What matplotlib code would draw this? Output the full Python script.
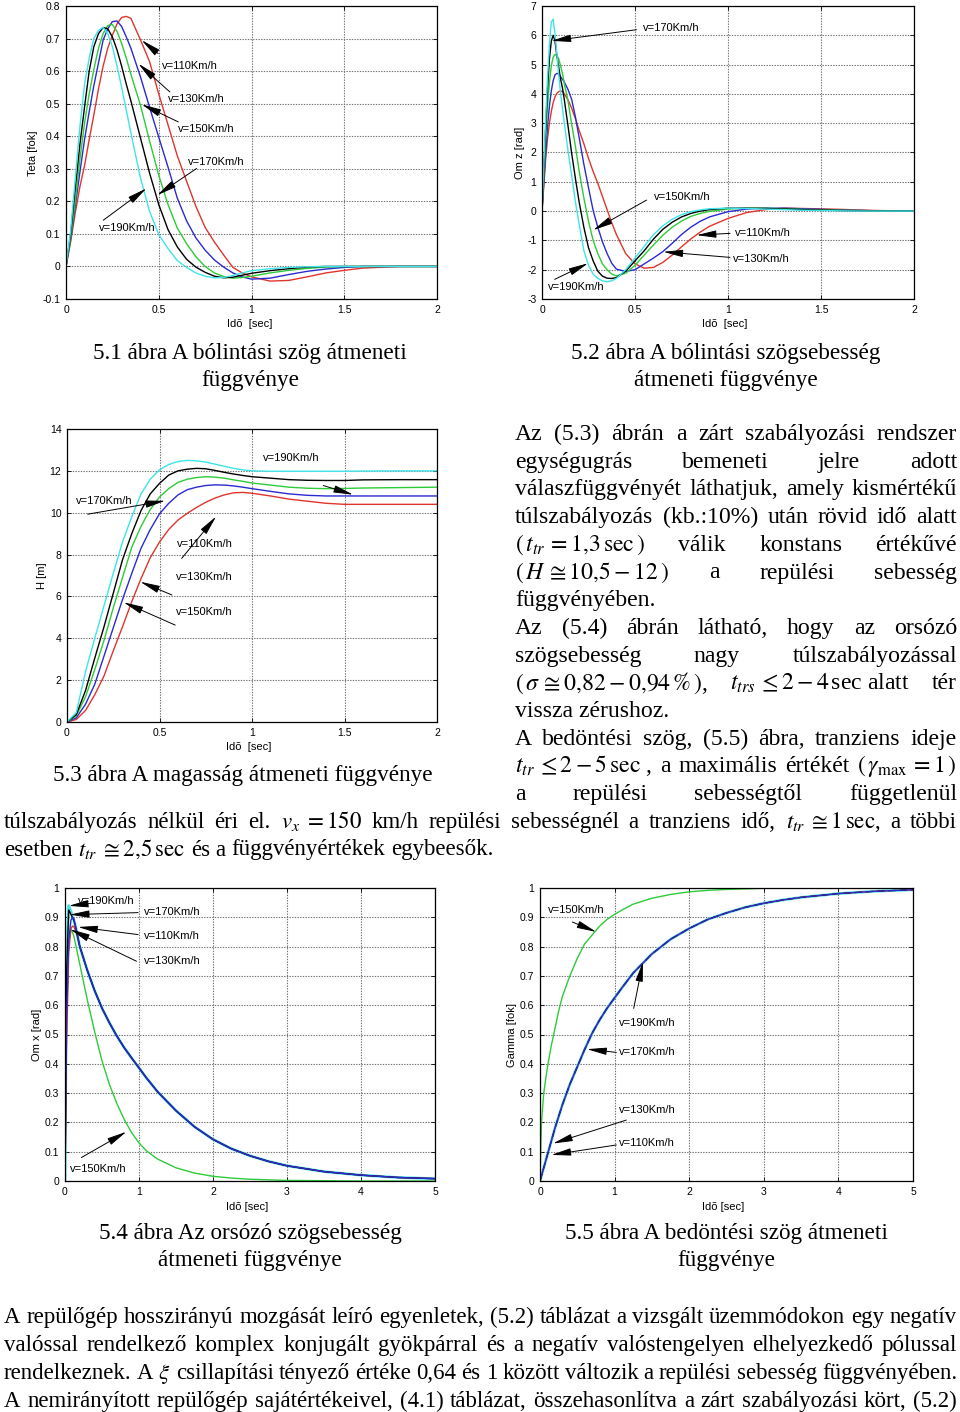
import matplotlib
matplotlib.use("Agg")
import matplotlib.pyplot as plt

plt.rcParams["mathtext.fontset"] = "stix"
plt.rcParams["font.family"] = "Liberation Sans"

SANS = "Liberation Sans"
SERIF = "Liberation Serif"
RED, BLUE, GREEN, BLACK, CYAN = "#e0352c", "#2a2ad2", "#2ecb38", "#000000", "#3fe4ea"

# ---- 5.1 Teta [fok] ----
teta_t = [0, 0.025, 0.05, 0.075, 0.1, 0.125, 0.15, 0.175, 0.2, 0.225, 0.25, 0.275, 0.3, 0.325,
          0.35, 0.4, 0.45, 0.5, 0.55, 0.6, 0.65, 0.7, 0.75, 0.8, 0.85, 0.9, 0.95, 1.0, 1.1, 1.2,
          1.3, 1.4, 1.5, 1.6, 1.8, 2.0]
teta_110 = [0, 0.075, 0.165, 0.245, 0.31, 0.39, 0.465, 0.545, 0.615, 0.67, 0.71, 0.745, 0.765, 0.768,
            0.762, 0.698, 0.63, 0.53, 0.435, 0.34, 0.262, 0.185, 0.12, 0.075, 0.035, -0.003, -0.02,
            -0.032, -0.045, -0.043, -0.032, -0.02, -0.012, -0.005, 0, 0]
teta_130 = [0, 0.085, 0.185, 0.29, 0.39, 0.475, 0.555, 0.625, 0.695, 0.73, 0.752, 0.754, 0.737, 0.705,
            0.67, 0.585, 0.49, 0.397, 0.305, 0.21, 0.14, 0.088, 0.05, 0.02, -0.002, -0.02, -0.032,
            -0.039, -0.036, -0.025, -0.015, -0.008, -0.003, 0, 0, 0]
teta_150 = [0, 0.09, 0.20, 0.33, 0.44, 0.53, 0.605, 0.67, 0.715, 0.74, 0.743, 0.722, 0.685, 0.64,
            0.59, 0.498, 0.387, 0.28, 0.19, 0.118, 0.07, 0.03, 0.0, -0.02, -0.031, -0.036, -0.034,
            -0.03, -0.02, -0.012, -0.006, -0.002, 0, 0, 0, 0]
teta_170 = [0, 0.10, 0.24, 0.375, 0.49, 0.60, 0.675, 0.715, 0.734, 0.73, 0.705, 0.665, 0.615, 0.56,
            0.508, 0.398, 0.288, 0.19, 0.113, 0.06, 0.022, -0.002, -0.018, -0.03, -0.035, -0.033,
            -0.027, -0.021, -0.013, -0.007, -0.002, 0, 0, 0, 0, 0]
teta_190 = [0, 0.11, 0.27, 0.43, 0.56, 0.64, 0.70, 0.725, 0.734, 0.715, 0.675, 0.615, 0.55, 0.48,
            0.41, 0.275, 0.17, 0.098, 0.055, 0.018, -0.003, -0.02, -0.03, -0.035, -0.034, -0.028,
            -0.02, -0.013, -0.007, -0.003, -0.001, 0, 0, 0, 0, 0]

# ---- 5.2 Om z [rad] ----
omz_t = [0, 0.01, 0.02, 0.03, 0.04, 0.05, 0.06, 0.07, 0.08, 0.09, 0.10, 0.11, 0.12, 0.14, 0.16,
         0.18, 0.20, 0.225, 0.25, 0.275, 0.30, 0.325, 0.35, 0.375, 0.40, 0.45, 0.50, 0.55, 0.60,
         0.65, 0.70, 0.75, 0.80, 0.85, 0.90, 1.0, 1.1, 1.2, 1.3, 1.4, 1.6, 1.8, 2.0]
omz_110 = [0, 0.9, 1.8, 2.5, 3.0, 3.4, 3.7, 3.9, 4.02, 4.08, 4.1, 4.08, 4.0, 3.8, 3.5, 3.15, 2.75,
           2.3, 1.8, 1.35, 0.95, 0.5, 0.05, -0.4, -0.8, -1.45, -1.8, -1.95, -1.92, -1.75, -1.5,
           -1.22, -0.95, -0.72, -0.52, -0.25, -0.05, 0.05, 0.1, 0.09, 0.06, 0.02, 0]
omz_130 = [0, 1.0, 2.0, 2.9, 3.6, 4.1, 4.45, 4.65, 4.7, 4.68, 4.58, 4.5, 4.4, 4.15, 3.8, 3.2, 2.5,
           1.6, 0.8, 0.02, -0.55, -1.05, -1.45, -1.78, -1.98, -2.06, -2.0, -1.8, -1.6, -1.38, -1.1,
           -0.8, -0.55, -0.35, -0.2, -0.02, 0.07, 0.1, 0.1, 0.08, 0.04, 0.01, 0]
omz_150 = [0, 1.2, 2.5, 3.6, 4.4, 4.95, 5.25, 5.35, 5.3, 5.2, 4.95, 4.7, 4.35, 3.75, 2.95, 2.2,
           1.35, 0.45, -0.35, -1.0, -1.45, -1.8, -2.0, -2.15, -2.21, -2.12, -1.85, -1.5, -1.15,
           -0.82, -0.55, -0.34, -0.18, -0.08, -0.01, 0.07, 0.1, 0.1, 0.08, 0.06, 0.03, 0.01, 0]
omz_170 = [0, 1.4, 2.9, 4.2, 5.2, 5.8, 6.0, 5.8, 5.3, 4.9, 4.5, 4.2, 3.8, 2.9, 1.95, 1.1, 0.3,
           -0.55, -1.25, -1.7, -2.05, -2.22, -2.29, -2.3, -2.27, -2.05, -1.7, -1.35, -0.95, -0.62,
           -0.38, -0.2, -0.08, 0.0, 0.05, 0.1, 0.1, 0.09, 0.07, 0.05, 0.02, 0.005, 0]
omz_190 = [0, 1.6, 3.2, 4.6, 5.7, 6.45, 6.55, 6.05, 5.35, 4.65, 4.0, 3.5, 3.0, 2.05, 1.2, 0.3,
           -0.45, -1.35, -1.85, -2.15, -2.3, -2.38, -2.41, -2.38, -2.3, -2.0, -1.6, -1.2, -0.8,
           -0.5, -0.28, -0.12, -0.02, 0.04, 0.08, 0.1, 0.09, 0.07, 0.05, 0.03, 0.01, 0, 0]

# ---- 5.3 H [m] ----
h_t = [0, 0.05, 0.1, 0.15, 0.2, 0.25, 0.3, 0.35, 0.4, 0.45, 0.5, 0.55, 0.6, 0.65, 0.7, 0.75, 0.8,
       0.85, 0.9, 0.95, 1.0, 1.1, 1.2, 1.3, 1.4, 1.5, 1.6, 1.8, 2.0]
h_110 = [0, 0.12, 0.55, 1.3, 2.2, 3.4, 4.55, 5.75, 6.85, 7.85, 8.6, 9.2, 9.65, 9.97, 10.25, 10.5,
         10.7, 10.85, 10.95, 10.97, 10.93, 10.8, 10.65, 10.55, 10.45, 10.4, 10.4, 10.4, 10.4]
h_130 = [0, 0.2, 0.85, 1.8, 3.15, 4.5, 5.85, 7.1, 8.3, 9.2, 9.95, 10.45, 10.85, 11.1, 11.22, 11.3,
         11.33, 11.32, 11.28, 11.22, 11.15, 11.02, 10.9, 10.83, 10.8, 10.8, 10.8, 10.8, 10.8]
h_150 = [0, 0.3, 1.2, 2.5, 3.9, 5.45, 6.9, 8.35, 9.35, 10.15, 10.75, 11.15, 11.45, 11.6, 11.68,
         11.72, 11.7, 11.65, 11.57, 11.5, 11.42, 11.32, 11.22, 11.17, 11.15, 11.16, 11.18, 11.2, 11.22]
h_170 = [0, 0.35, 1.5, 3.05, 4.55, 6.15, 7.75, 9.0, 10.1, 10.9, 11.4, 11.8, 12.0, 12.08, 12.12,
         12.1, 12.02, 11.93, 11.85, 11.78, 11.72, 11.65, 11.58, 11.55, 11.54, 11.54, 11.57, 11.58, 11.58]
h_190 = [0, 0.45, 2.4, 4.0, 5.55, 7.1, 8.6, 9.8, 10.9, 11.6, 12.05, 12.3, 12.45, 12.5, 12.48, 12.42,
         12.32, 12.22, 12.12, 12.05, 12.0, 11.98, 11.98, 11.98, 11.98, 11.98, 11.99, 12.0, 12.0]

# ---- 5.4 Om x [rad] ----
omx_t = [0, 0.02, 0.05, 0.08, 0.1, 0.12, 0.15, 0.2, 0.25, 0.3, 0.4, 0.5, 0.6, 0.7, 0.8, 0.9, 1.0,
         1.1, 1.25, 1.5, 1.75, 2.0, 2.25, 2.5, 2.75, 3.0, 3.5, 4.0, 4.5, 5.0]
omx_slow = [0.8, 0.76, 0.72, 0.65, 0.59, 0.54, 0.495, 0.455, 0.42, 0.386, 0.352, 0.305, 0.24,
            0.185, 0.142, 0.11, 0.086, 0.067, 0.052, 0.032, 0.02, 0.012, 0.008]   # from t=0.2 on
omx_110 = [0, 0.45, 0.78, 0.86, 0.87, 0.868, 0.85] + omx_slow
omx_130 = [0, 0.55, 0.82, 0.89, 0.9, 0.895, 0.86] + omx_slow
omx_170 = [0, 0.7, 0.925, 0.91, 0.9, 0.89, 0.86] + omx_slow
omx_190 = [0, 0.75, 0.94, 0.92, 0.9, 0.89, 0.86] + omx_slow
omx_150 = [0, 0.5, 0.82, 0.86, 0.85, 0.835, 0.8, 0.74, 0.68, 0.62, 0.51, 0.41, 0.33, 0.265, 0.21,
           0.165, 0.13, 0.103, 0.075, 0.045, 0.027, 0.016, 0.01, 0.006, 0.004, 0.002, 0.001, 0, 0, 0]

# ---- 5.5 Gamma [fok] ----
gam_t = [0, 0.02, 0.05, 0.1, 0.15, 0.2, 0.25, 0.3, 0.4, 0.5, 0.6, 0.7, 0.8, 0.9, 1.0, 1.1, 1.25,
         1.5, 1.75, 2.0, 2.25, 2.5, 2.75, 3.0, 3.25, 3.5, 4.0, 4.5, 5.0]
gam_slow = [0, 0.018, 0.045, 0.09, 0.135, 0.18, 0.22, 0.26, 0.33, 0.39, 0.45, 0.505, 0.55, 0.59,
            0.625, 0.66, 0.71, 0.775, 0.825, 0.862, 0.893, 0.915, 0.934, 0.948, 0.959, 0.968,
            0.981, 0.989, 0.994]
gam_150 = [0, 0.2, 0.3, 0.39, 0.46, 0.52, 0.58, 0.63, 0.7, 0.76, 0.81, 0.84, 0.87, 0.893, 0.91,
           0.925, 0.945, 0.965, 0.978, 0.987, 0.992, 0.995, 0.997, 0.999, 1.0, 1.0, 1.0, 1.0, 1.0]

# ---- page text ----
col_lines = [
    ["Az", "(5.3)", "ábrán", "a", "zárt", "szabályozási", "rendszer"],
    ["egységugrás", "bemeneti", "jelre", "adott"],
    ["válaszfüggvényét", "láthatjuk,", "amely", "kismértékű"],
    ["túlszabályozás", "(kb.:10%)", "után", "rövid", "idő", "alatt"],
    [r"$(\,t_{tr}\,=1{,}3\,\mathrm{sec}\,)$", "válik", "konstans", "értékűvé"],
    [r"$(\,H\,\cong 10{,}5-12\,)$", "a", "repülési", "sebesség"],
    ["függvényében."],
    ["Az", "(5.4)", "ábrán", "látható,", "hogy", "az", "orsózó"],
    ["szögsebesség", "nagy", "túlszabályozással"],
    [r"$(\,\sigma\,\cong 0{,}82-0{,}94\,\%\,)$,", r"$t_{trs}\,\leq 2-4\,$sec alatt", "tér"],
    ["vissza zérushoz."],
    ["A", "bedöntési", "szög,", "(5.5)", "ábra,", "tranziens", "ideje"],
    [r"$t_{tr}\,\leq 2-5\,\mathrm{sec}$ ,", "a", "maximális", "értékét",
     r"$(\,\gamma_{\mathrm{max}}\,=1\,)$"],
    ["a", "repülési", "sebességtől", "függetlenül"],
]
col_justify = [True, True, True, True, True, True, False, True, True, True, False, True, True, True]

wide_lines = [
    ["túlszabályozás", "nélkül", "éri", "el.", r"$v_x\;=150$", "km/h", "repülési", "sebességnél",
     "a", "tranziens", "idő,", r"$t_{tr}\;\cong 1\,\mathrm{sec}$,", "a", "többi"],
    ["esetben", r"$t_{tr}\;\cong 2{,}5\,\mathrm{sec}$", "és", "a", "függvényértékek", "egybeesők."],
]
bottom_lines = [
    "A repülőgép hosszirányú mozgását leíró egyenletek, (5.2) táblázat a vizsgált üzemmódokon egy negatív".split(),
    "valóssal rendelkező komplex konjugált gyökpárral és a negatív valóstengelyen elhelyezkedő pólussal".split(),
    ["rendelkeznek.", "A", r"$\xi$", "csillapítási", "tényező", "értéke", "0,64", "és", "1", "között",
     "változik", "a", "repülési", "sebesség", "függvényében."],
    "A nemirányított repülőgép sajátértékeivel, (4.1) táblázat, összehasonlítva a zárt szabályozási kört, (5.2)".split(),
]

W, H = 960, 1412
fig = plt.figure(figsize=(W / 100, H / 100), dpi=100)
page = fig.add_axes([0, 0, 1, 1], zorder=0)
page.set_xlim(0, W)
page.set_ylim(H, 0)
page.axis("off")
renderer = fig.canvas.get_renderer()


def width_of(s, size):
    t = page.text(0, 0, s, fontsize=size, family=SERIF)
    w = t.get_window_extent(renderer).width
    t.remove()
    return w


def fit_size(s, target, base=18):
    return base * target / width_of(s, base)


def text_line(y, x0, x1, pieces, size, justify=True):
    objs = [page.text(0, y, p, fontsize=size, family=SERIF, va="baseline", ha="left") for p in pieces]
    widths = [o.get_window_extent(renderer).width for o in objs]
    if justify and len(objs) > 1:
        gap = (x1 - x0 - sum(widths)) / (len(objs) - 1)
    else:
        gap = size * 100 / 72 * 0.25
    x = x0
    for o, w in zip(objs, widths):
        o.set_x(x)
        x += w + gap


def box(x0, y0, x1, y1):
    return fig.add_axes([x0 / W, 1 - y1 / H, (x1 - x0) / W, (y1 - y0) / H], zorder=1)


def frame(ax, xlim, xticks, ylim, yticks, ylabels):
    ax.set_xlim(xlim)
    ax.set_ylim(ylim)
    ax.set_xticks(xticks)
    ax.set_xticklabels([("%g" % v) for v in xticks], fontsize=7.5, family=SANS)
    ax.set_yticks(yticks)
    ax.set_yticklabels(ylabels, fontsize=7.5, family=SANS)
    ax.grid(True, color="#707070", linestyle=(0, (1.2, 1.2)), linewidth=0.8)
    ax.tick_params(direction="in", length=3, width=0.6, top=True, right=True, pad=4)
    for s in ax.spines.values():
        s.set_linewidth(0.9)


ARROW = dict(arrowstyle="-|>,head_length=1.5,head_width=0.28", mutation_scale=8,
             color="k", lw=0.7, shrinkA=0, shrinkB=0)


def note(ax, text, xy, tail=None, tip=None):
    ax.text(xy[0], xy[1], text, fontsize=8, family=SANS, ha="left", va="center", zorder=5)
    if tip is not None:
        ax.annotate("", xy=tip, xytext=tail, zorder=5, arrowprops=ARROW)


def axis_texts(xl, xpos, yl, ypos):
    page.text(xpos[0], xpos[1], xl, fontsize=8, family=SANS, ha="center", va="center")
    page.text(ypos[0], ypos[1], yl, fontsize=8, family=SANS, ha="center", va="center", rotation=90)


# ---------- 5.1 ----------
ax1 = box(66, 6, 437, 299)
for ys, c in [(teta_110, RED), (teta_130, BLUE), (teta_150, GREEN), (teta_170, BLACK), (teta_190, CYAN)]:
    ax1.plot(teta_t, ys, color=c, lw=1.0)
frame(ax1, (0, 2), [0, 0.5, 1, 1.5, 2], (-0.1, 0.8),
      [-0.1, 0, 0.1, 0.2, 0.3, 0.4, 0.5, 0.6, 0.7, 0.8],
      ["-0.1", "0", "0.1", "0.2", "0.3", "0.4", "0.5", "0.6", "0.7", "0.8"])
note(ax1, "v=110Km/h", (0.515, 0.616), (0.497, 0.654), (0.408, 0.695))
note(ax1, "v=130Km/h", (0.551, 0.514), (0.56, 0.536), (0.39, 0.623))
note(ax1, "v=150Km/h", (0.605, 0.421), (0.605, 0.444), (0.408, 0.498))
note(ax1, "v=170Km/h", (0.659, 0.322), (0.704, 0.301), (0.492, 0.219))
note(ax1, "v=190Km/h", (0.178, 0.118), (0.201, 0.142), (0.434, 0.24))
axis_texts("Idõ  [sec]", (250, 324), "Teta [fok]", (33, 153))

# ---------- 5.2 ----------
ax2 = box(542, 6, 914, 299)
for ys, c in [(omz_110, RED), (omz_130, BLUE), (omz_150, GREEN), (omz_170, BLACK), (omz_190, CYAN)]:
    ax2.plot(omz_t, ys, color=c, lw=1.0)
frame(ax2, (0, 2), [0, 0.5, 1, 1.5, 2], (-3, 7), list(range(-3, 8)), [str(v) for v in range(-3, 8)])
note(ax2, "v=170Km/h", (0.544, 6.26), (0.508, 6.19), (0.05, 5.81))
note(ax2, "v=150Km/h", (0.601, 0.49), (0.562, 0.375), (0.275, -0.65))
note(ax2, "v=110Km/h", (1.038, -0.76), (1.011, -0.76), (0.831, -0.82))
note(ax2, "v=130Km/h", (1.029, -1.64), (1.011, -1.58), (0.652, -1.39))
note(ax2, "v=190Km/h", (0.032, -2.6), (0.068, -2.33), (0.248, -1.78))
axis_texts("Idõ  [sec]", (725, 324), "Om z [rad]", (520, 153))

# ---------- 5.3 ----------
ax3 = box(67, 429, 437, 722)
for ys, c in [(h_110, RED), (h_130, BLUE), (h_150, GREEN), (h_170, BLACK), (h_190, CYAN)]:
    ax3.plot(h_t, ys, color=c, lw=1.0)
frame(ax3, (0, 2), [0, 0.5, 1, 1.5, 2], (0, 14), list(range(0, 15, 2)), [str(v) for v in range(0, 15, 2)])
note(ax3, "v=190Km/h", (1.061, 12.61))
ax3.annotate("", xy=(1.547, 10.86), xytext=(1.385, 11.3), zorder=5, arrowprops=ARROW)
note(ax3, "v=170Km/h", (0.05, 10.54), (0.112, 9.93), (0.531, 10.57))
note(ax3, "v=110Km/h", (0.594, 8.49), (0.62, 7.82), (0.806, 9.82))
note(ax3, "v=130Km/h", (0.588, 6.94), (0.567, 6.07), (0.396, 6.7))
note(ax3, "v=150Km/h", (0.588, 5.27), (0.585, 4.63), (0.306, 5.72))
axis_texts("Idõ  [sec]", (249, 747), "H [m]", (42, 576))

# ---------- 5.4 ----------
ax4 = box(65, 888, 435, 1181)
for ys, c, w in [(omx_190, CYAN, 2.0), (omx_150, GREEN, 1.0), (omx_110, RED, 1.0),
                 (omx_170, BLACK, 1.0), (omx_130, BLUE, 1.0)]:
    ax4.plot(omx_t, ys, color=c, lw=w)
yt = [i / 10 for i in range(11)]
yl = ["0"] + ["%.1f" % v for v in yt[1:-1]] + ["1"]
frame(ax4, (0, 5), [0, 1, 2, 3, 4, 5], (0, 1), yt, yl)
note(ax4, "v=190Km/h", (0.176, 0.955), (0.334, 0.947), (0.05, 0.939))
note(ax4, "v=170Km/h", (1.065, 0.918), (0.988, 0.916), (0.063, 0.909))
note(ax4, "v=110Km/h", (1.065, 0.836), (0.988, 0.841), (0.176, 0.867))
note(ax4, "v=130Km/h", (1.065, 0.75), (0.966, 0.75), (0.072, 0.859))
note(ax4, "v=150Km/h", (0.063, 0.041), (0.221, 0.08), (0.83, 0.168))
axis_texts("Idõ [sec]", (247, 1207), "Om x [rad]", (37, 1035))

# ---------- 5.5 ----------
ax5 = box(540, 888, 913, 1181)
ax5.plot(gam_t, gam_slow, color=CYAN, lw=2.0)
ax5.plot(gam_t, gam_150, color=GREEN, lw=1.0)
ax5.plot(gam_t, gam_slow, color=RED, lw=1.0)
ax5.plot(gam_t, gam_slow, color=BLACK, lw=0.9, dashes=(6, 3))
ax5.plot(gam_t, gam_slow, color=BLUE, lw=0.9)
frame(ax5, (0, 5), [0, 1, 2, 3, 4, 5], (0, 1), yt, yl)
note(ax5, "v=150Km/h", (0.107, 0.926), (0.433, 0.884), (0.755, 0.85))
note(ax5, "v=190Km/h", (1.059, 0.54), (1.256, 0.589), (1.38, 0.748))
note(ax5, "v=170Km/h", (1.059, 0.439), (1.023, 0.439), (0.63, 0.45))
note(ax5, "v=130Km/h", (1.059, 0.241), (1.157, 0.208), (0.174, 0.128))
note(ax5, "v=110Km/h", (1.059, 0.128), (1.023, 0.123), (0.152, 0.089))
axis_texts("Idõ [sec]", (723, 1207), "Gamma [fok]", (512, 1035))

# ---------- captions ----------
cap = fit_size("5.3 ábra A magasság átmeneti függvénye", 379)
for cx, y, s in [(250, 359, "5.1 ábra A bólintási szög átmeneti"), (250, 386, "függvénye"),
                 (726, 359, "5.2 ábra A bólintási szögsebesség"), (726, 386, "átmeneti függvénye"),
                 (243, 781, "5.3 ábra A magasság átmeneti függvénye"),
                 (250, 1239, "5.4 ábra Az orsózó szögsebesség"), (250, 1266, "átmeneti függvénye"),
                 (726, 1239, "5.5 ábra A bedöntési szög átmeneti"), (726, 1266, "függvénye")]:
    page.text(cx, y, s, fontsize=cap, family=SERIF, ha="center", va="baseline")

# ---------- body text ----------
body = min(fit_size(" ".join(p), 438) for p, j in zip(col_lines, col_justify) if j)
for i, (pieces, just) in enumerate(zip(col_lines, col_justify)):
    text_line(440 + 27.7 * i, 515, 957, pieces, body, just)

small = fit_size(" ".join(bottom_lines[0]), 950)
text_line(440 + 27.7 * 14, 4, 957, wide_lines[0], small, True)
text_line(440 + 27.7 * 15, 4, 957, wide_lines[1], small, False)
for i, pieces in enumerate(bottom_lines):
    text_line(1323 + 28 * i, 4, 957, pieces, small, True)

fig.savefig("out.png", dpi=100)
